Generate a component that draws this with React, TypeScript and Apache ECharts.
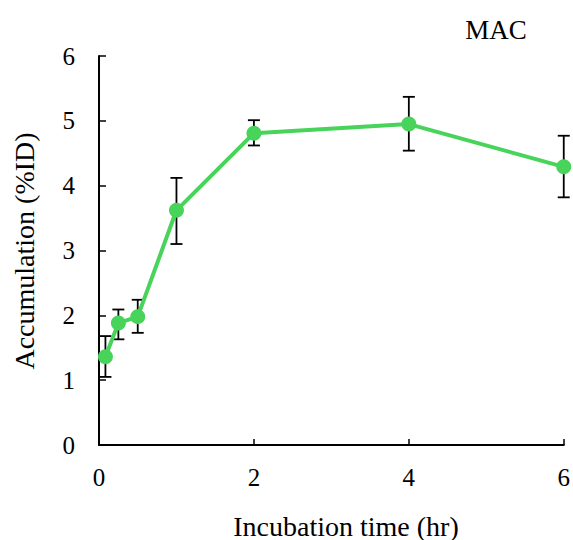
import React, { useEffect, useRef } from "react";
import * as echarts from "echarts";

const times = [0.083, 0.25, 0.5, 1, 2, 4, 6];
const means = [1.36, 1.88, 1.98, 3.62, 4.81, 4.95, 4.29];
const upper = [1.68, 2.09, 2.24, 4.12, 5.01, 5.37, 4.77];
const lower = [1.05, 1.63, 1.73, 3.1, 4.62, 4.54, 3.82];
const xTicks = [0, 2, 4, 6];
const yTicks = [0, 1, 2, 3, 4, 5, 6];

const FONT = "'Liberation Serif', 'Times New Roman', serif";

export default function App() {
  const ref = useRef<HTMLDivElement>(null);
  useEffect(() => {
    document.body.style.margin = "0";
    if (!ref.current) return;
    const chart = echarts.init(ref.current, null, { renderer: "svg" });
    const errData = times.map((t, i) => [t, lower[i], upper[i]]);
    chart.setOption({
      animation: false,
      grid: { left: 99, right: 9, top: 56, bottom: 95, containLabel: false },
      xAxis: {
        type: "value",
        min: xTicks[0],
        max: xTicks[xTicks.length - 1],
        interval: 2,
        splitLine: { show: false },
        axisLine: { lineStyle: { color: "#000", width: 2 } },
        axisTick: { inside: true, length: 6, lineStyle: { color: "#000", width: 1.5 } },
        axisLabel: { color: "#000", fontFamily: FONT, fontSize: 25, margin: 20 },
      },
      yAxis: {
        type: "value",
        min: yTicks[0],
        max: yTicks[yTicks.length - 1],
        interval: 1,
        splitLine: { show: false },
        axisLine: { show: true, lineStyle: { color: "#000", width: 2 } },
        axisTick: { show: true, inside: true, length: 7, lineStyle: { color: "#000", width: 1.5 } },
        axisLabel: { color: "#000", fontFamily: FONT, fontSize: 25, margin: 24 },
      },
      graphic: [
        {
          type: "text",
          x: 496,
          y: 30,
          style: {
            text: "MAC",
            font: `27px ${FONT}`,
            fill: "#000",
            align: "center",
            verticalAlign: "middle",
          },
        },
        {
          type: "text",
          x: 346,
          y: 526,
          style: {
            text: "Incubation time (hr)",
            font: `28px ${FONT}`,
            fill: "#000",
            align: "center",
            verticalAlign: "middle",
          },
        },
        {
          type: "text",
          x: 24,
          y: 251,
          rotation: Math.PI / 2,
          style: {
            text: "Accumulation (%ID)",
            font: `28px ${FONT}`,
            fill: "#000",
            align: "center",
            verticalAlign: "middle",
          },
        },
      ],
      series: [
        {
          type: "custom",
          data: errData,
          z: 1,
          renderItem: (params: any, api: any) => {
            const x = api.value(0);
            const lo = api.coord([x, api.value(1)]);
            const hi = api.coord([x, api.value(2)]);
            const hw = 6;
            const style = { stroke: "#000", lineWidth: 1.8 };
            return {
              type: "group",
              children: [
                { type: "line", shape: { x1: lo[0], y1: lo[1], x2: hi[0], y2: hi[1] }, style },
                { type: "line", shape: { x1: lo[0] - hw, y1: lo[1], x2: lo[0] + hw, y2: lo[1] }, style },
                { type: "line", shape: { x1: hi[0] - hw, y1: hi[1], x2: hi[0] + hw, y2: hi[1] }, style },
              ],
            };
          },
        },
        {
          type: "line",
          data: times.map((t, i) => [t, means[i]]),
          z: 3,
          symbol: "circle",
          symbolSize: 15,
          itemStyle: { color: "#48d35a" },
          lineStyle: { color: "#48d35a", width: 4 },
        },
      ],
    });
    return () => chart.dispose();
  }, []);
  return <div ref={ref} style={{ width: 573, height: 540 }} />;
}
